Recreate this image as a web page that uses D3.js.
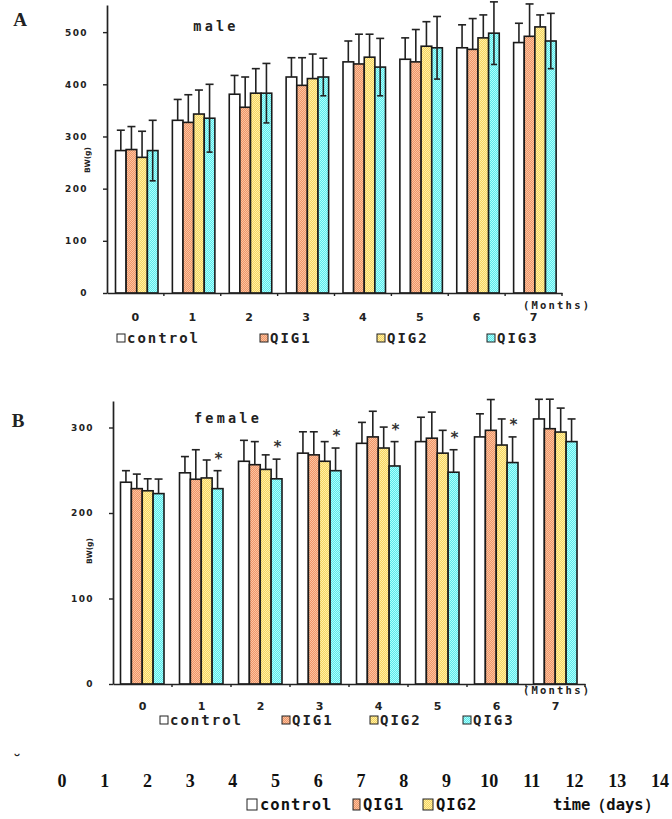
<!DOCTYPE html>
<html><head><meta charset="utf-8">
<script src="https://cdn.jsdelivr.net/npm/d3@7"></script>
<style>body{margin:0;background:#fff} svg{display:block}</style>
</head><body><svg id="c" width="672" height="819"></svg>
<script>
// ---------- data ----------
const months = ["0","1","2","3","4","5","6","7"];
const groups = ["control","QIG1","QIG2","QIG3"];

const maleControl   = [273,331,381,414,443,448,470,480];
const maleControlSD = [39,40,36,37,40,41,44,37];
const maleQIG1      = [275,327,356,398,439,443,467,492];
const maleQIG1SD    = [44,53,58,53,57,62,59,62];
const maleQIG2      = [260,343,383,411,452,473,489,510];
const maleQIG2SD    = [50,46,47,47,44,47,44,23];
const maleQIG3      = [273,335,383,414,433,470,498,483];
const maleQIG3SD    = [58,65,57,36,55,60,60,53];

const femaleControl   = [236,247,260.5,270,281.5,283.5,289,310];
const femaleControlSD = [13.5,19,24.5,25,24.5,28.5,27,23];
const femaleQIG1      = [228.5,239.5,256.5,268,289,287.5,296.7,298.6];
const femaleQIG1SD    = [17,34.5,27,27,30,30.5,36,34.5];
const femaleQIG2      = [226,241,251,260.5,276,270,279.5,294.7];
const femaleQIG2SD    = [14,21,17,23,24.5,26.7,30.5,28];
const femaleQIG3      = [222.7,228.5,240,249.5,255,247.7,259,283.5];
const femaleQIG3SD    = [17,21,23,26.5,28.5,26.3,30,26.5];
const femaleStarMonths = ["1","2","3","4","5","6"];

const maleYTicks   = [0,100,200,300,400,500];
const femaleYTicks = [0,100,200,300];
const dayTicks = ["0","1","2","3","4","5","6","7","8","9","10","11","12","13","14"];

// ---------- setup ----------
const svg = d3.select("#c");
svg.append("rect").attr("width",672).attr("height",819).attr("fill","#fff");
const defs = svg.append("defs");
function checker(id,a,b){
  const p = defs.append("pattern").attr("id",id).attr("width",2).attr("height",2)
    .attr("patternUnits","userSpaceOnUse");
  p.append("rect").attr("width",2).attr("height",2).attr("fill",a);
  p.append("rect").attr("width",1).attr("height",1).attr("fill",b);
  p.append("rect").attr("x",1).attr("y",1).attr("width",1).attr("height",1).attr("fill",b);
}
checker("pOr","#EF9468","#FBC4A0");
checker("pYe","#F6D460","#FFF0A6");
checker("pCy","#5EE8E8","#ACFFFF");
const fills = ["#ffffff","url(#pOr)","url(#pYe)","url(#pCy)"];
const mono = "'DejaVu Sans Mono',monospace";
const sansB = "'DejaVu Sans',sans-serif";

function drawPanel(cfg){
  const x = d3.scaleBand().domain(months).range([cfg.x0, cfg.x1]);
  const xi = d3.scaleBand().domain(groups).range([cfg.in0, cfg.in1]);
  const y = d3.scaleLinear().domain([0, cfg.yMax]).range([cfg.yBase, cfg.yTop]);
  const g = svg.append("g");

  groups.forEach((s,si)=>{
    const vals = cfg.means[si], sds = cfg.sds[si];
    months.forEach((m,i)=>{
      const bx = x(m)+xi(s), bw = xi.bandwidth(), cx = bx+bw/2;
      g.append("rect").attr("x",bx).attr("y",y(vals[i])).attr("width",bw)
        .attr("height",y(0)-y(vals[i])).attr("fill",fills[si])
        .attr("stroke","#1a1a1a").attr("stroke-width",1.6);
      const top = y(vals[i]+sds[i]);
      const bot = cfg.downSeries===s ? y(vals[i]-sds[i]) : y(vals[i]);
      g.append("line").attr("x1",cx).attr("x2",cx).attr("y1",top).attr("y2",bot)
        .attr("stroke","#222").attr("stroke-width",1.6);
      g.append("line").attr("x1",cx-4).attr("x2",cx+4).attr("y1",top).attr("y2",top)
        .attr("stroke","#222").attr("stroke-width",1.6);
      if(cfg.downSeries===s){
        g.append("line").attr("x1",cx-3).attr("x2",cx+3).attr("y1",bot).attr("y2",bot)
          .attr("stroke","#222").attr("stroke-width",1.6);
      }
      if(cfg.stars && s==="QIG3" && cfg.stars.includes(m)){
        g.append("text").attr("x",cx+1).attr("y",top-7).attr("text-anchor","middle")
          .attr("font-family",mono).attr("font-weight","bold").attr("font-size",15)
          .attr("fill","#333").text("*");
      }
    });
  });

  // y axis
  const ya = g.append("g").attr("transform",`translate(${cfg.x0},0)`)
    .call(d3.axisLeft(y).tickValues(cfg.yTicks).tickSize(4).tickSizeOuter(0).tickPadding(15).tickFormat(d3.format("d")));
  ya.select(".domain").attr("stroke","#222").attr("stroke-width",1.7);
  ya.selectAll(".tick line").attr("stroke","#222").attr("stroke-width",1.4);
  ya.selectAll(".tick text").attr("font-family",sansB).attr("font-weight","bold")
    .attr("font-size",9).attr("letter-spacing",1.4).attr("fill","#222");

  // x axis
  const xa = g.append("g").attr("transform",`translate(0,${cfg.yBase})`)
    .call(d3.axisBottom(x).tickSize(0).tickSizeOuter(0).tickPadding(cfg.xPad));
  xa.select(".domain").attr("stroke","#222").attr("stroke-width",1.7);
  xa.selectAll(".tick text").attr("font-family",sansB).attr("font-weight","bold")
    .attr("font-size",11).attr("fill","#222");
  months.slice(1).concat(["end"]).forEach(m=>{
    const xx = m==="end" ? cfg.x1 : x(m);
    g.append("line").attr("x1",xx).attr("x2",xx).attr("y1",cfg.yBase).attr("y2",cfg.yBase+3)
      .attr("stroke","#222").attr("stroke-width",1.4);
  });

  // y label
  g.append("text").attr("transform",`translate(${cfg.ylabX},${cfg.ylabY}) rotate(-90)`)
    .attr("text-anchor","middle").attr("font-family",sansB).attr("font-weight","bold")
    .attr("font-size",7.5).attr("fill","#222").text("BW(g)");
  // title
  g.append("text").attr("x",cfg.titleX).attr("y",cfg.titleY).attr("text-anchor","middle")
    .attr("dominant-baseline","central").attr("font-family",mono).attr("font-weight","bold")
    .attr("font-size",13.5).attr("letter-spacing",3.2).attr("fill","#222").text(cfg.title);
  // months unit
  g.append("text").attr("x",523).attr("y",cfg.unitY).attr("dominant-baseline","central")
    .attr("font-family",mono).attr("font-weight","bold").attr("font-size",10.5)
    .attr("letter-spacing",2.2).attr("fill","#222").text("(Months)");
  // panel letter
  g.append("text").attr("x",cfg.letterX).attr("y",cfg.letterY).attr("text-anchor","middle")
    .attr("dominant-baseline","central").attr("font-family","'Liberation Serif',serif")
    .attr("font-weight","bold").attr("font-size",19).attr("fill","#222").text(cfg.letter);
  // legend
  groups.forEach((s,si)=>{
    const lx = cfg.legendX[si];
    g.append("rect").attr("x",lx).attr("y",cfg.legendY-4).attr("width",8).attr("height",8)
      .attr("fill",fills[si]).attr("stroke","#222").attr("stroke-width",1);
    g.append("text").attr("x",lx+10).attr("y",cfg.legendY).attr("dominant-baseline","central")
      .attr("font-family",mono).attr("font-weight","bold").attr("font-size",14)
      .attr("letter-spacing",2).attr("fill","#222").text(s);
  });
}

drawPanel({
  x0:107, x1:562, in0:8.5, in1:51, yBase:293, yTop:5, yMax:552,
  means:[maleControl,maleQIG1,maleQIG2,maleQIG3],
  sds:[maleControlSD,maleQIG1SD,maleQIG2SD,maleQIG3SD],
  downSeries:"QIG3", yTicks:maleYTicks, xPad:20,
  ylabX:90, ylabY:160, title:"male", titleX:216, titleY:26, unitY:305,
  letter:"A", letterX:20, letterY:19, legendX:[117,260,377,487], legendY:338
});
drawPanel({
  x0:113, x1:585, in0:7.5, in1:51, yBase:684, yTop:401, yMax:331,
  means:[femaleControl,femaleQIG1,femaleQIG2,femaleQIG3],
  sds:[femaleControlSD,femaleQIG1SD,femaleQIG2SD,femaleQIG3SD],
  downSeries:null, stars:femaleStarMonths, yTicks:femaleYTicks, xPad:18,
  ylabX:92, ylabY:551, title:"female", titleX:228, titleY:418, unitY:690,
  letter:"B", letterX:18, letterY:420, legendX:[160,282,370,463], legendY:720
});

// ---------- stray bottom strip ----------
const dx = d3.scalePoint().domain(dayTicks).range([62,660]);
const strip = svg.append("g");
strip.append("text").attr("x",17).attr("y",760).attr("text-anchor","middle")
  .attr("dominant-baseline","central").attr("font-family","'DejaVu Sans',sans-serif")
  .attr("font-weight","bold").attr("font-size",16).attr("fill","#222").text("˘");
strip.selectAll("text.day").data(dayTicks).enter().append("text").attr("class","day")
  .attr("x",d=>dx(d)).attr("y",781).attr("text-anchor","middle").attr("dominant-baseline","central")
  .attr("font-family","'Liberation Serif',serif").attr("font-weight","bold").attr("font-size",18)
  .attr("fill","#111").text(d=>d);
const stripLegend = ["control","QIG1","QIG2"];
const stripX = [247,353,423];
const stripW = [10,7,10];
stripLegend.forEach((s,i)=>{
  strip.append("rect").attr("x",stripX[i]).attr("y",799).attr("width",stripW[i]).attr("height",11)
    .attr("fill",fills[i]).attr("stroke","#222").attr("stroke-width",1);
  strip.append("text").attr("x",stripX[i]+stripW[i]+3).attr("y",805).attr("dominant-baseline","central")
    .attr("font-family",mono).attr("font-weight","bold").attr("font-size",15.5)
    .attr("letter-spacing",1).attr("fill","#111").text(s);
});
strip.append("text").attr("x",553).attr("y",805).attr("dominant-baseline","central")
  .attr("font-family",mono).attr("font-weight","bold").attr("font-size",15.5)
  .attr("fill","#111").text("time（days）");
</script></body></html>
